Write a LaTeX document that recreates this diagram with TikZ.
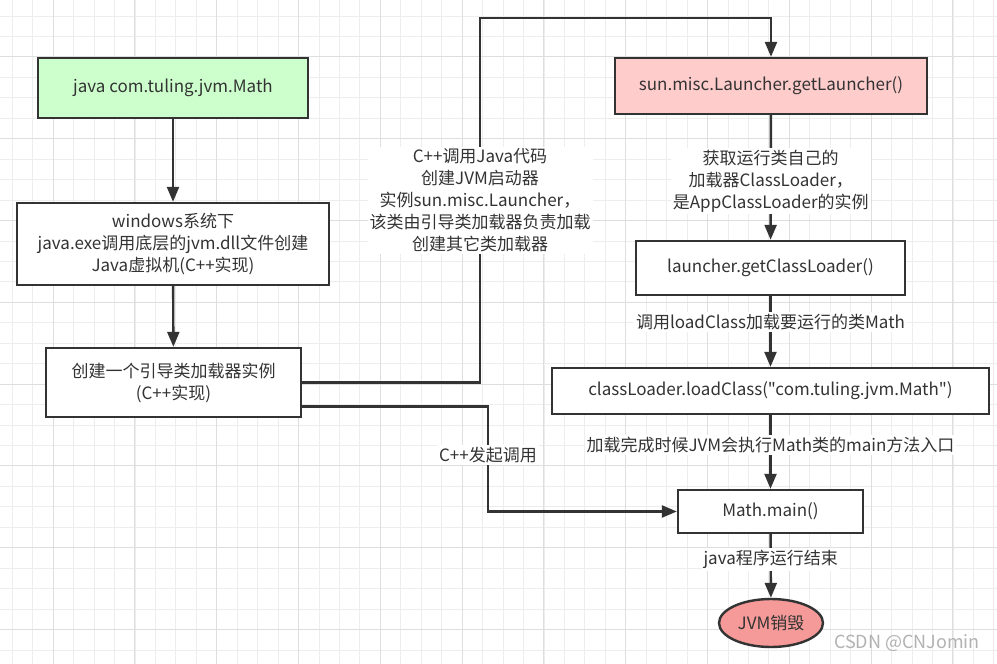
\documentclass[tikz,border=0pt]{standalone}
\usepackage{fontspec}
\setmainfont{Noto Sans CJK SC}[Ligatures=TeXOff]
\usetikzlibrary{arrows.meta,shapes.geometric}

\definecolor{txt}{HTML}{333333}
\definecolor{lin}{HTML}{333333}
\definecolor{grn}{HTML}{CCFFCC}
\definecolor{pnk}{HTML}{FFCCCC}
\definecolor{red}{HTML}{F59A98}
\definecolor{gmin}{HTML}{EDEDED}
\definecolor{gmaj}{HTML}{DEDEDE}

\begin{document}
\begin{tikzpicture}[x=1pt,y=-1pt,
	box/.style={draw=lin, fill=white, line width=2.4pt, inner sep=0pt, align=center, text=txt, font=\fontsize{17}{22}\selectfont},
	arr/.style={draw=lin, line width=2.4pt, -{Triangle[length=15pt,width=12pt]}},
	lbl/.style={fill=white, inner sep=2pt, text=txt, align=center, font=\fontsize{17}{22}\selectfont}]
			\useasboundingbox[fill=white] (0,0) rectangle (997,664);
			% grid
			\foreach \i in {0,...,48} \draw[gmin, line width=0.8pt] ({12.2+20.45*\i},0) -- ++(0,664);
			\foreach \j in {0,...,32} \draw[gmin, line width=0.8pt] (0,{-4.5+20.45*\j}) -- ++(997,0);
			\foreach \i in {0,...,11} \draw[gmaj, line width=1pt] ({53.1+81.8*\i},0) -- ++(0,664);
			\foreach \j in {0,...,7} \draw[gmaj, line width=1pt] (0,{56.85+81.8*\j}) -- ++(997,0);
			
			\node[box, fill=grn, minimum width=270pt, minimum height=60pt] (java) at (173,88) {java com.tuling.jvm.Math};
			\node[box, minimum width=312pt, minimum height=82pt] (win) at (173,244) {windows系统下\\java.exe调用底层的jvm.dll文件创建\\Java虚拟机(C++实现)};
			\node[box, minimum width=255pt, minimum height=69pt] (boot) at (173.5,382.5) {创建一个引导类加载器实例\\(C++实现)};
			\node[box, fill=pnk, minimum width=312pt, minimum height=56pt] (launch) at (771,86) {sun.misc.Launcher.getLauncher()};
			\node[box, minimum width=269pt, minimum height=54pt] (getcl) at (770.5,268) {launcher.getClassLoader()};
			\node[box, minimum width=437pt, minimum height=46pt] (loadcl) at (770.5,391) {classLoader.loadClass("com.tuling.jvm.Math")};
			\node[box, minimum width=185pt, minimum height=43pt] (mainm) at (770.5,511.5) {Math.main()};
			\node[box, ellipse, fill=red, minimum width=104pt, minimum height=48pt] (jvmend) at (771,623) {JVM销毁};
			\node[text=gray!60, font=\fontsize{18}{22}\selectfont] (wm) at (907,643) {CSDN @CNJomin};
			
			\coordinate (c1) at (480,18);
			\coordinate (c2) at (488,511.5);
			
			\draw[arr] (java) -- (win);
			\draw[arr] (win) -- (boot);
			\draw[arr] (boot.east) -| node[lbl, pos=0.75] {C++调用Java代码\\创建JVM启动器\\实例sun.misc.Launcher，\\该类由引导类加载器负责加载\\创建其它类加载器} (c1) -| (launch.north);
			\draw[arr] ([yshift=-24pt]boot.east) -| node[lbl, pos=0.73] {C++发起调用} (c2) -- (mainm.west);
			\draw[arr] (launch) -- node[lbl, pos=0.53] {获取运行类自己的\\加载器ClassLoader，\\是AppClassLoader的实例} (getcl);
			\draw[arr] (getcl) -- node[lbl, pos=0.36] {调用loadClass加载要运行的类Math} (loadcl);
			\draw[arr] (loadcl) -- node[lbl, pos=0.41] {加载完成时候JVM会执行Math类的main方法入口} (mainm);
			\draw[arr] (mainm) -- node[lbl, pos=0.4] {java程序运行结束} (jvmend);
			
		\end{tikzpicture}
\end{document}
